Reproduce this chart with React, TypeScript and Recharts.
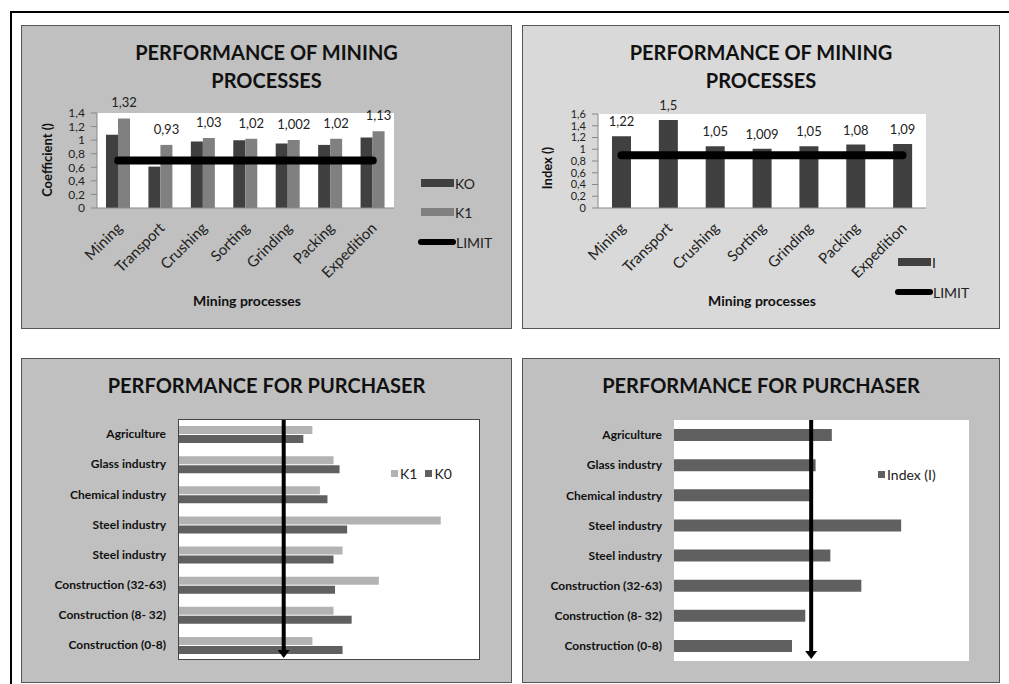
import React from 'react';
import {
  ComposedChart,
  BarChart,
  Bar,
  Line,
  XAxis,
  YAxis,
  CartesianGrid,
  LabelList,
  ReferenceLine,
} from 'recharts';

const FONT = 'Lato, "Open Sans", "DejaVu Sans", sans-serif';

// ---- Data ----
const processes = ['Mining', 'Transport', 'Crushing', 'Sorting', 'Grinding', 'Packing', 'Expedition'];
const k0Process = [1.08, 0.61, 0.98, 1.0, 0.95, 0.93, 1.04];
const k1Process = [1.32, 0.93, 1.03, 1.02, 1.002, 1.02, 1.13];
const limitCoefficient = 0.7;
const coefficientTicks = [0, 0.2, 0.4, 0.6, 0.8, 1, 1.2, 1.4];

const indexProcess = [1.22, 1.5, 1.05, 1.009, 1.05, 1.08, 1.09];
const limitIndex = 0.9;
const indexTicks = [0, 0.2, 0.4, 0.6, 0.8, 1, 1.2, 1.4, 1.6];

const purchasers = [
  'Agriculture',
  'Glass industry',
  'Chemical industry',
  'Steel industry',
  'Steel industry',
  'Construction (32-63)',
  'Construction (8- 32)',
  'Construction (0-8)',
];
const k1Purchaser = [0.89, 1.03, 0.94, 1.74, 1.09, 1.33, 1.03, 0.89];
const k0Purchaser = [0.83, 1.07, 0.99, 1.12, 1.03, 1.04, 1.15, 1.09];
const indexPurchaser = [1.07, 0.96, 0.92, 1.54, 1.06, 1.27, 0.89, 0.8];
const purchaserLimitK = 0.7;
const purchaserLimitI = 0.93;

const comma = (v: any) => String(v).replace('.', ',');

const processData = processes.map((name, i) => ({
  name,
  k0: k0Process[i],
  k1: k1Process[i],
  limit: limitCoefficient,
}));
const indexData = processes.map((name, i) => ({ name, index: indexProcess[i], limit: limitIndex }));
const purchaserData = purchasers.map((name, i) => ({
  name,
  k1: k1Purchaser[i],
  k0: k0Purchaser[i],
  index: indexPurchaser[i],
}));

// ---- Helpers ----
const RotTick = (props: any) => {
  const { x, y, payload } = props;
  const ax = x + 5;
  const ay = y + 19;
  return (
    <text
      x={ax}
      y={ay}
      transform={`rotate(-45 ${ax} ${ay})`}
      textAnchor="end"
      fontSize={15}
      fontFamily={FONT}
      fill="#222"
    >
      {payload.value}
    </text>
  );
};

const Arrow = (p: any) => {
  const x = p.x1;
  const yTop = Math.min(p.y1, p.y2);
  const yBot = Math.max(p.y1, p.y2) - 2;
  return (
    <g>
      <line x1={x} x2={x} y1={yTop} y2={yBot - 6} stroke="#000" strokeWidth={4} />
      <polygon points={`${x - 6},${yBot - 8} ${x + 6},${yBot - 8} ${x},${yBot}`} fill="#000" />
    </g>
  );
};

const Panel = ({ left, top, width, height, bg, children }: any) => (
  <div
    style={{
      position: 'absolute',
      left,
      top,
      width,
      height,
      background: bg,
      border: '1px solid #555',
      boxSizing: 'border-box',
    }}
  >
    <div style={{ position: 'absolute', left: -1, top: -1, width, height }}>{children}</div>
  </div>
);

const Title = ({ lines, width }: any) => (
  <div
    style={{
      position: 'absolute',
      left: 0,
      top: 13,
      width,
      textAlign: 'center',
      fontFamily: FONT,
      fontWeight: 700,
      fontSize: 20,
      lineHeight: '28px',
      color: '#111',
    }}
  >
    {lines.map((l: string, i: number) => (
      <div key={i}>{l}</div>
    ))}
  </div>
);

const AxisTitle = ({ text, cx, cy, rotate }: any) => (
  <div
    style={{
      position: 'absolute',
      left: cx,
      top: cy,
      transform: `translate(-50%, -50%)${rotate ? ' rotate(-90deg)' : ''}`,
      whiteSpace: 'nowrap',
      fontFamily: FONT,
      fontWeight: 700,
      fontSize: rotate ? 13 : 14,
      color: '#111',
    }}
  >
    {text}
  </div>
);

const LegendRow = ({ x, y, kind, color, label }: any) => (
  <div
    style={{
      position: 'absolute',
      left: x,
      top: y - 10,
      height: 20,
      display: 'flex',
      alignItems: 'center',
      fontFamily: FONT,
      fontSize: 14,
      color: '#222',
      whiteSpace: 'nowrap',
    }}
  >
    {kind === 'line' ? (
      <div style={{ width: 38, height: 6, borderRadius: 3, background: '#000' }} />
    ) : (
      <div style={{ width: 33, height: 8, background: color, marginRight: 1 }} />
    )}
    <span>{label}</span>
  </div>
);

const SquareLegend = ({ x, y, items }: any) => (
  <div
    style={{
      position: 'absolute',
      left: x,
      top: y - 10,
      height: 20,
      display: 'flex',
      alignItems: 'center',
      fontFamily: FONT,
      fontSize: 14,
      color: '#222',
      whiteSpace: 'nowrap',
    }}
  >
    {items.map((it: any, i: number) => (
      <div key={i} style={{ display: 'flex', alignItems: 'center', marginRight: 8 }}>
        <div style={{ width: 7, height: 7, background: it.color, marginRight: 2 }} />
        <span>{it.label}</span>
      </div>
    ))}
  </div>
);

const axisTick1 = { fontSize: 12, fill: '#222', fontFamily: FONT };
const axisTick2 = { fontSize: 11, fill: '#222', fontFamily: FONT };
const catTick = { fontSize: 12, fill: '#111', fontFamily: FONT, fontWeight: 700 };

export default function App() {
  return (
    <div
      style={{
        position: 'absolute',
        left: 0,
        top: 0,
        width: 1009,
        height: 684,
        overflow: 'hidden',
        background: '#fff',
      }}
    >
      {/* outer frame */}
      <div
        style={{
          position: 'absolute',
          left: 10,
          top: 11,
          width: 1100,
          height: 800,
          borderTop: '2px solid #000',
          borderLeft: '2px solid #000',
        }}
      />

      {/* Panel 1 */}
      <Panel left={21} top={25} width={491} height={304} bg="#c0c0c0">
        <Title lines={['PERFORMANCE OF MINING', 'PROCESSES']} width={491} />
        <div style={{ position: 'absolute', left: 0, top: 0 }}>
          <ComposedChart
            width={491}
            height={304}
            data={processData}
            margin={{ top: 88, right: 118, bottom: 61, left: 21 }}
            barGap={0}
          >
            <CartesianGrid horizontal={false} vertical={false} fill="#fff" />
            <XAxis
              dataKey="name"
              height={60}
              tickSize={0}
              tickLine={false}
              axisLine={{ stroke: '#888' }}
              tick={<RotTick />}
              interval={0}
            />
            <YAxis
              width={55}
              domain={[0, 1.4]}
              ticks={coefficientTicks}
              interval={0}
              tickFormatter={comma}
              tickSize={6}
              tickMargin={6}
              axisLine={{ stroke: '#888' }}
              tickLine={{ stroke: '#888' }}
              tick={axisTick1}
            />
            <Bar dataKey="k0" fill="#404040" barSize={12} isAnimationActive={false} />
            <Bar dataKey="k1" fill="#808080" barSize={12} isAnimationActive={false}>
              <LabelList
                dataKey="k1"
                position="top"
                offset={11}
                formatter={comma}
                fill="#222"
                fontSize={13}
                fontFamily={FONT}
              />
            </Bar>
            <Line
              dataKey="limit"
              stroke="#000"
              strokeWidth={8}
              strokeLinecap="round"
              dot={false}
              activeDot={false}
              isAnimationActive={false}
            />
          </ComposedChart>
        </div>
        <AxisTitle text="Mining processes" cx={226} cy={275} />
        <AxisTitle text="Coefficient  ()" cx={26} cy={135} rotate />
        <LegendRow x={400} y={158} color="#404040" label="KO" />
        <LegendRow x={400} y={187} color="#808080" label="K1" />
        <LegendRow x={397} y={217} kind="line" label="LIMIT" />
      </Panel>

      {/* Panel 2 */}
      <Panel left={522} top={25} width={478} height={304} bg="#d9d9d9">
        <Title lines={['PERFORMANCE OF MINING', 'PROCESSES']} width={478} />
        <div style={{ position: 'absolute', left: 0, top: 0 }}>
          <ComposedChart
            width={478}
            height={304}
            data={indexData}
            margin={{ top: 89, right: 74, bottom: 61, left: 21 }}
          >
            <CartesianGrid horizontal={false} vertical={false} fill="#fff" />
            <XAxis
              dataKey="name"
              height={60}
              tickSize={0}
              tickLine={false}
              axisLine={{ stroke: '#888' }}
              tick={<RotTick />}
              interval={0}
            />
            <YAxis
              width={55}
              domain={[0, 1.6]}
              ticks={indexTicks}
              interval={0}
              tickFormatter={comma}
              tickSize={6}
              tickMargin={6}
              axisLine={{ stroke: '#888' }}
              tickLine={{ stroke: '#888' }}
              tick={axisTick2}
            />
            <Bar dataKey="index" fill="#404040" barSize={19} isAnimationActive={false}>
              <LabelList
                dataKey="index"
                position="top"
                offset={10}
                formatter={comma}
                fill="#222"
                fontSize={13}
                fontFamily={FONT}
              />
            </Bar>
            <Line
              dataKey="limit"
              stroke="#000"
              strokeWidth={8}
              strokeLinecap="round"
              dot={false}
              activeDot={false}
              isAnimationActive={false}
            />
          </ComposedChart>
        </div>
        <AxisTitle text="Mining processes" cx={240} cy={275} />
        <AxisTitle text="Index ()" cx={25} cy={143} rotate />
        <LegendRow x={376} y={237} color="#404040" label="I" />
        <LegendRow x={373} y={267} kind="line" label="LIMIT" />
      </Panel>

      {/* Panel 3 */}
      <Panel left={21} top={358} width={491} height={325} bg="#c0c0c0">
        <div style={{ position: 'absolute', left: 0, top: 0 }}>
          <BarChart
            width={491}
            height={325}
            data={purchaserData}
            layout="vertical"
            margin={{ top: 61, right: 32, bottom: 23, left: 7 }}
            barGap={1}
          >
            <CartesianGrid horizontal={false} vertical={false} fill="#fff" />
            <XAxis type="number" domain={[0, 2]} hide />
            <YAxis
              type="category"
              dataKey="name"
              width={150}
              tickSize={0}
              tickMargin={12}
              tickLine={false}
              axisLine={false}
              tick={catTick}
              interval={0}
            />
            <Bar dataKey="k1" fill="#b3b3b3" barSize={8} isAnimationActive={false} />
            <Bar dataKey="k0" fill="#606060" barSize={8} isAnimationActive={false} />
            <ReferenceLine x={purchaserLimitK} shape={<Arrow />} />
          </BarChart>
        </div>
        <div
          style={{
            position: 'absolute',
            left: 157,
            top: 61,
            width: 302,
            height: 241,
            border: '1px solid #444',
            boxSizing: 'border-box',
          }}
        />
        <Title lines={['PERFORMANCE FOR PURCHASER']} width={491} />
        <SquareLegend
          x={370}
          y={115}
          items={[
            { color: '#b3b3b3', label: 'K1' },
            { color: '#606060', label: 'K0' },
          ]}
        />
      </Panel>

      {/* Panel 4 */}
      <Panel left={522} top={358} width={478} height={325} bg="#c0c0c0">
        <div style={{ position: 'absolute', left: 0, top: 0 }}>
          <BarChart
            width={478}
            height={325}
            data={purchaserData}
            layout="vertical"
            margin={{ top: 62, right: 31, bottom: 22, left: 2 }}
          >
            <CartesianGrid horizontal={false} vertical={false} fill="#fff" />
            <XAxis type="number" domain={[0, 2]} hide />
            <YAxis
              type="category"
              dataKey="name"
              width={150}
              tickSize={0}
              tickMargin={12}
              tickLine={false}
              axisLine={false}
              tick={catTick}
              interval={0}
            />
            <Bar dataKey="index" fill="#606060" barSize={12} isAnimationActive={false} />
            <ReferenceLine x={purchaserLimitI} shape={<Arrow />} />
          </BarChart>
        </div>
        <Title lines={['PERFORMANCE FOR PURCHASER']} width={478} />
        <SquareLegend x={356} y={116} items={[{ color: '#606060', label: 'Index (I)' }]} />
      </Panel>
    </div>
  );
}
